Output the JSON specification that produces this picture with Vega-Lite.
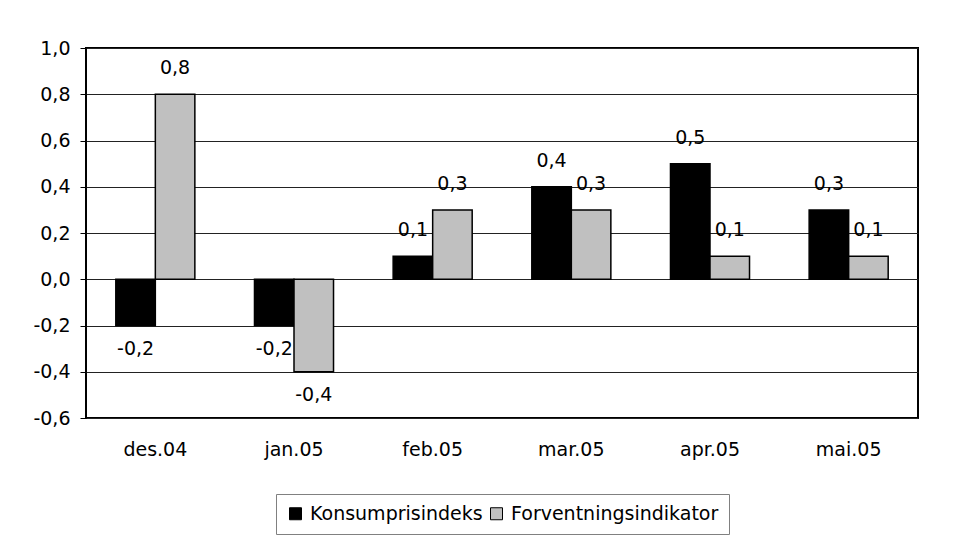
{
  "$schema": "https://vega.github.io/schema/vega-lite/v6.json",
  "autosize": "none",
  "width": 832,
  "height": 370,
  "padding": {"left": 86, "top": 48, "right": 42, "bottom": 119},
  "background": "white",
  "config": {
    "locale": {"number": {"decimal": ",", "thousands": " ", "grouping": [3], "currency": ["", " kr"], "minus": "-"}},
    "font": "DejaVu Sans",
    "view": {"stroke": "black", "strokeWidth": 2},
    "axis": {"labelFont": "DejaVu Sans", "labelFontSize": 19, "labelColor": "black"},
    "legend": {"layout": {"bottom": {"anchor": "middle"}}}
  },
  "data": {
    "values": [
      {"month": "des.04", "series": "Konsumprisindeks", "value": -0.2},
      {"month": "des.04", "series": "Forventningsindikator", "value": 0.8},
      {"month": "jan.05", "series": "Konsumprisindeks", "value": -0.2},
      {"month": "jan.05", "series": "Forventningsindikator", "value": -0.4},
      {"month": "feb.05", "series": "Konsumprisindeks", "value": 0.1},
      {"month": "feb.05", "series": "Forventningsindikator", "value": 0.3},
      {"month": "mar.05", "series": "Konsumprisindeks", "value": 0.4},
      {"month": "mar.05", "series": "Forventningsindikator", "value": 0.3},
      {"month": "apr.05", "series": "Konsumprisindeks", "value": 0.5},
      {"month": "apr.05", "series": "Forventningsindikator", "value": 0.1},
      {"month": "mai.05", "series": "Konsumprisindeks", "value": 0.3},
      {"month": "mai.05", "series": "Forventningsindikator", "value": 0.1}
    ]
  },
  "encoding": {
    "x": {
      "field": "month", "type": "nominal", "sort": null,
      "scale": {"paddingInner": 0.43, "paddingOuter": 0.215},
      "axis": {"title": null, "labelAngle": 0, "ticks": false, "domain": false, "grid": false, "labelPadding": 22}
    },
    "xOffset": {"field": "series", "type": "nominal", "scale": {"domain": ["Konsumprisindeks", "Forventningsindikator"]}},
    "y": {
      "field": "value", "type": "quantitative",
      "scale": {"domain": [-0.6, 1.0], "nice": false, "zero": false},
      "axis": {
        "title": null, "format": ".1f",
        "values": [-0.6, -0.4, -0.2, 0, 0.2, 0.4, 0.6, 0.8, 1.0],
        "domain": false, "grid": true, "gridColor": "#222", "gridWidth": 1,
        "ticks": true, "tickColor": "black", "tickSize": 6, "tickWidth": 1,
        "labelPadding": 10
      }
    }
  },
  "layer": [
    {
      "mark": {"type": "bar", "stroke": "black", "strokeWidth": 1.5},
      "encoding": {
        "y2": {"datum": 0},
        "color": {
          "field": "series", "type": "nominal",
          "scale": {"domain": ["Konsumprisindeks", "Forventningsindikator"], "range": ["#000000", "#C0C0C0"]},
          "legend": {
            "title": null, "orient": "bottom", "direction": "horizontal",
            "symbolType": "square", "symbolSize": 144, "symbolStrokeColor": "black", "symbolStrokeWidth": 1,
            "labelFont": "DejaVu Sans", "labelFontSize": 19, "labelColor": "black", "labelOffset": 5, "labelLimit": 400,
            "columnPadding": 4, "strokeColor": "#808080", "padding": 10, "offset": 35, "fillColor": "white"
          }
        }
      }
    },
    {
      "transform": [{"filter": "datum.value >= 0"}],
      "mark": {"type": "text", "fontSize": 19, "font": "DejaVu Sans", "color": "black", "baseline": "alphabetic", "dy": -20},
      "encoding": {"text": {"field": "value", "type": "quantitative", "format": ".1f"}}
    },
    {
      "transform": [{"filter": "datum.value < 0"}],
      "mark": {"type": "text", "fontSize": 19, "font": "DejaVu Sans", "color": "black", "baseline": "alphabetic", "dy": 29},
      "encoding": {"text": {"field": "value", "type": "quantitative", "format": ".1f"}}
    }
  ]
}
